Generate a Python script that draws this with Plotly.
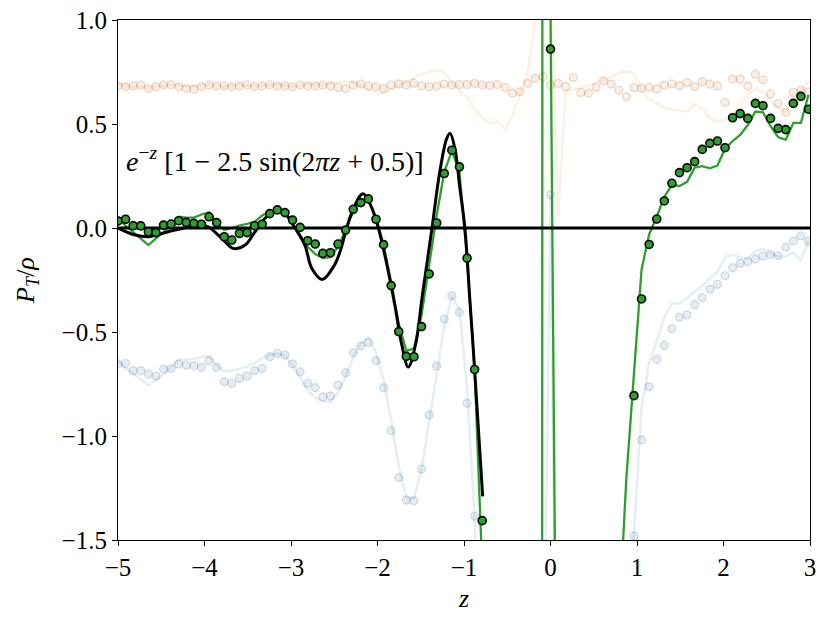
import plotly.graph_objects as go

# ---------------- data ----------------
Z_START = -5.0
Z_STEP = 5.0 / 57.0
N_PTS = 92
Z = [Z_START + k * Z_STEP for k in range(N_PTS)]

X_TICKS = [-5, -4, -3, -2, -1, 0, 1, 2, 3]
X_TICK_TEXT = ["\u22125", "\u22124", "\u22123", "\u22122", "\u22121", "0", "1", "2", "3"]
Y_TICKS = [-1.5, -1.0, -0.5, 0.0, 0.5, 1.0]
Y_TICK_TEXT = ["\u22121.5", "\u22121.0", "\u22120.5", "0.0", "0.5", "1.0"]
X_RANGE = [-5, 3]
Y_RANGE = [-1.5, 1.0]

# total (green) sample points
GREEN_DOTS = [
    0.034, 0.042, 0.011, 0.010, -0.018, -0.022, 0.014, 0.019, 0.035, 0.027,
    0.022, 0.018, 0.054, 0.026, -0.042, -0.058, -0.026, -0.022, 0.011, 0.018,
    0.069, 0.087, 0.074, 0.038, 0.003, -0.061, -0.077, -0.122, -0.119, -0.077,
    -0.010, 0.090, 0.122, 0.140, 0.042, -0.080, -0.277, -0.498, -0.617, -0.619,
    -0.474, -0.221, 0.024, 0.262, 0.374, 0.294, -0.145, -0.680, -1.407,
    None, None, None, None, None, None, None, None,
    0.860,
    None, None, None, None, None, None, None, None, None, None,
    -0.806, -0.341, -0.079, 0.043, 0.130, 0.215, 0.266, 0.290, 0.319, 0.378,
    0.407, 0.418, 0.386, 0.530, 0.550, 0.527, 0.599, 0.588, 0.527, 0.479,
    0.473, 0.599, 0.633, 0.571,
]

# total (green) line
GREEN_LINE = [
    0.050, 0.010, -0.020, -0.050, -0.082, -0.050, -0.020, 0.020, 0.054, 0.050,
    0.050, 0.065, 0.075, 0.025, -0.010, 0.000, 0.012, 0.020, 0.030, 0.060,
    0.080, 0.087, 0.070, 0.020, -0.035, -0.090, -0.125, -0.145, -0.140, -0.090,
    -0.010, 0.080, 0.130, 0.140, 0.050, -0.080, -0.260, -0.460, -0.590, -0.580,
    -0.420, -0.180, 0.060, 0.270, 0.370, 0.270, -0.150, -0.680, -1.420,
    -2.3, -3.2, -4.5, -6.5, -10.0, -20.0, -100.0, 9.0,
    1.05,
    -3.4, -4.5, -4.0, -3.8, -3.5, -3.2, -2.8, -2.4, -1.9, -1.2,
    -0.720, -0.200, -0.030, 0.054, 0.150, 0.207, 0.202, 0.222, 0.290, 0.297,
    0.287, 0.300, 0.380, 0.418, 0.447, 0.495, 0.560, 0.556, 0.490, 0.437,
    0.424, 0.505, 0.505, 0.640,
]

# first component (faint orange) sample points
ORANGE_DOTS = [
    0.683, 0.679, 0.683, 0.688, 0.671, 0.679, 0.688, 0.688, 0.679, 0.671,
    0.667, 0.679, 0.688, 0.683, 0.683, 0.679, 0.683, 0.688, 0.679, 0.683,
    0.688, 0.683, 0.683, 0.679, 0.688, 0.683, 0.683, 0.688, 0.683, 0.676,
    0.671, 0.688, 0.692, 0.683, 0.679, 0.671, 0.688, 0.692, 0.688, 0.696,
    0.683, 0.679, 0.683, 0.692, 0.687, 0.690, 0.690, 0.695, 0.687, 0.685,
    0.690, 0.675, 0.648, 0.655, 0.695, 0.720, 0.727, 0.687, 0.695, 0.680,
    0.724, 0.652, 0.648, 0.675, 0.708, 0.692, 0.663, 0.631, 0.675, 0.672,
    0.676, 0.668, 0.687, 0.692, 0.684, 0.699, 0.680, 0.703, 0.692, 0.683,
    0.604, 0.715, 0.715, 0.683, 0.739, 0.712, 0.644, 0.599, 0.556, 0.652,
    0.663, 0.655,
]

# first component (faint orange) line
ORANGE_LINE = [
    0.690, 0.685, 0.680, 0.680, 0.675, 0.680, 0.685, 0.690, 0.685, 0.680,
    0.680, 0.685, 0.690, 0.685, 0.680, 0.685, 0.690, 0.685, 0.680, 0.685,
    0.690, 0.690, 0.685, 0.680, 0.685, 0.690, 0.690, 0.690, 0.695, 0.700,
    0.705, 0.700, 0.685, 0.665, 0.648, 0.650, 0.665, 0.685, 0.705, 0.720,
    0.740, 0.752, 0.760, 0.745, 0.700, 0.660, 0.630, 0.570, 0.530, 0.503,
    0.510, 0.475, 0.540, 0.650, 0.750, 1.000, 1.600, 1.200, 0.054, 0.660,
    0.665, 0.675, 0.685, 0.700, 0.712, 0.725, 0.745, 0.752, 0.745, 0.665,
    0.620, 0.600, 0.578, 0.570, 0.565, 0.560, 0.595, 0.575, 0.530, 0.511,
    0.520, 0.545, 0.590, 0.640, 0.672, 0.655, 0.610, 0.575, 0.560, 0.623,
    0.660, 0.703,
]

# second component (faint blue) sample points
BLUE_DOTS = [
    -0.654, -0.651, -0.686, -0.686, -0.702, -0.712, -0.679, -0.675, -0.654, -0.659,
    -0.662, -0.670, -0.638, -0.670, -0.739, -0.747, -0.723, -0.712, -0.686, -0.675,
    -0.619, -0.603, -0.611, -0.654, -0.691, -0.747, -0.768, -0.811, -0.808, -0.755,
    -0.696, -0.600, -0.567, -0.551, -0.638, -0.768, -0.974, -1.199, -1.308, -1.311,
    -1.159, -0.899, -0.663, -0.438, -0.325, -0.405, -0.843, -1.385,
    None, None, None, None, None, None, None, None, None,
    0.159,
    None, None, None, None, None, None, None, None, None, None,
    -1.481, -1.019, -0.763, -0.631, -0.564, -0.484, -0.429, -0.418, -0.369, -0.335,
    -0.295, -0.271, -0.229, -0.191, -0.170, -0.162, -0.149, -0.135, -0.127, -0.133,
    -0.093, -0.063, -0.038, -0.063,
]

# second component (faint blue) line
BLUE_LINE = [
    -0.640, -0.675, -0.700, -0.730, -0.757, -0.730, -0.705, -0.670, -0.631, -0.630,
    -0.630, -0.620, -0.615, -0.660, -0.690, -0.685, -0.678, -0.665, -0.650, -0.625,
    -0.610, -0.603, -0.615, -0.660, -0.720, -0.780, -0.815, -0.835, -0.835, -0.790,
    -0.715, -0.620, -0.555, -0.525, -0.598, -0.730, -0.925, -1.145, -1.295, -1.300,
    -1.160, -0.932, -0.700, -0.475, -0.330, -0.390, -0.770, -1.400, -2.300, -3.0,
    -4.0, -5.0, -7.0, -10.0, -20.0, -10.0, -2.65, 0.160, -3.5, -4.5,
    -4.0, -3.8, -3.6, -3.4, -3.2, -2.9, -2.6, -2.0, -1.465, -0.865,
    -0.650, -0.546, -0.430, -0.363, -0.363, -0.338, -0.305, -0.278, -0.243, -0.211,
    -0.140, -0.127, -0.143, -0.145, -0.112, -0.100, -0.120, -0.138, -0.136, -0.118,
    -0.155, -0.063,
]

# analytic curve
BLACK_Z = [-5.0, -4.8, -4.65, -4.42, -4.26, -4.07, -3.96, -3.80, -3.667, -3.53,
           -3.416, -3.30, -3.165, -3.07, -2.954, -2.84, -2.76, -2.64, -2.50, -2.43,
           -2.376, -2.30, -2.17, -2.08, -1.99, -1.90, -1.80, -1.72, -1.644, -1.56,
           -1.48, -1.37, -1.28, -1.20, -1.16, -1.10, -1.05, -0.99, -0.93, -0.89,
           -0.85, -0.784]
BLACK_V = [0.000, -0.034, -0.042, -0.018, -0.002, 0.014, 0.006, -0.050, -0.098, -0.082,
           -0.018, 0.047, 0.087, 0.070, 0.000, -0.082, -0.194, -0.248, -0.180, -0.110,
           -0.030, 0.070, 0.165, 0.110, 0.000, -0.160, -0.370, -0.560, -0.668, -0.560,
           -0.320, 0.000, 0.270, 0.430, 0.455, 0.370, 0.200, 0.000, -0.360, -0.600,
           -0.860, -1.290]

LABEL_TEXT = ("<i>e</i><sup>\u2212<i>z</i></sup> [1 \u2212 2.5 sin(2<i>\u03c0z</i> + 0.5)]")
LABEL_POS = (-4.93, 0.33)

# ---------------- styling ----------------
FONT = "Liberation Serif"
GREEN = "#2ca02c"
ORANGE_FILL = "rgba(255,127,14,0.13)"
BLUE_FILL = "rgba(31,119,180,0.13)"
FAINT_EDGE = "rgba(0,0,0,0.11)"

fig = go.Figure()

fig.add_trace(go.Scatter(x=Z, y=ORANGE_LINE, mode="lines",
                         line=dict(color="rgba(255,127,14,0.12)", width=2.5),
                         hoverinfo="skip"))
fig.add_trace(go.Scatter(x=Z, y=ORANGE_DOTS, mode="markers",
                         marker=dict(size=8, color=ORANGE_FILL,
                                     line=dict(color=FAINT_EDGE, width=1.4)),
                         hoverinfo="skip"))
fig.add_trace(go.Scatter(x=Z, y=BLUE_LINE, mode="lines",
                         line=dict(color="rgba(31,119,180,0.12)", width=2.5),
                         hoverinfo="skip"))
fig.add_trace(go.Scatter(x=Z, y=BLUE_DOTS, mode="markers",
                         marker=dict(size=8, color=BLUE_FILL,
                                     line=dict(color=FAINT_EDGE, width=1.4)),
                         hoverinfo="skip"))
fig.add_trace(go.Scatter(x=Z, y=GREEN_LINE, mode="lines",
                         line=dict(color=GREEN, width=2.3), hoverinfo="skip"))
fig.add_trace(go.Scatter(x=X_RANGE, y=[0, 0], mode="lines",
                         line=dict(color="black", width=3), hoverinfo="skip"))
fig.add_trace(go.Scatter(x=BLACK_Z, y=BLACK_V, mode="lines",
                         line=dict(color="black", width=3, shape="spline", smoothing=1.0),
                         hoverinfo="skip"))
fig.add_trace(go.Scatter(x=Z, y=GREEN_DOTS, mode="markers",
                         marker=dict(size=8, color=GREEN,
                                     line=dict(color="black", width=1.6)),
                         hoverinfo="skip"))

fig.add_annotation(x=LABEL_POS[0], y=LABEL_POS[1], xref="x", yref="y",
                   text=LABEL_TEXT, showarrow=False, xanchor="left", yanchor="middle",
                   font=dict(family=FONT, size=28, color="black"))

axis_common = dict(showgrid=False, zeroline=False, showline=True, linecolor="black",
                   linewidth=1.2, mirror=True, ticks="outside", ticklen=5,
                   tickwidth=1.2, tickcolor="black", automargin=False,
                   tickfont=dict(family=FONT, size=25, color="black"))

fig.update_xaxes(range=X_RANGE, tickvals=X_TICKS, ticktext=X_TICK_TEXT,
                 title=dict(text="<i>z</i>", font=dict(family=FONT, size=26, color="black"),
                            standoff=8),
                 **axis_common)
fig.update_yaxes(range=Y_RANGE, tickvals=Y_TICKS, ticktext=Y_TICK_TEXT,
                 title=dict(text="<i>P</i><sub><i>T</i></sub>/<i>\u03c1</i>",
                            font=dict(family=FONT, size=26, color="black"), standoff=19),
                 **axis_common)

fig.update_layout(width=831, height=623, showlegend=False,
                  margin=dict(l=118, r=21, t=20, b=83),
                  paper_bgcolor="white", plot_bgcolor="white")

fig.write_html("out.html", config={"displayModeBar": False},
               post_script="document.body.style.margin='0';document.body.style.padding='0';")
